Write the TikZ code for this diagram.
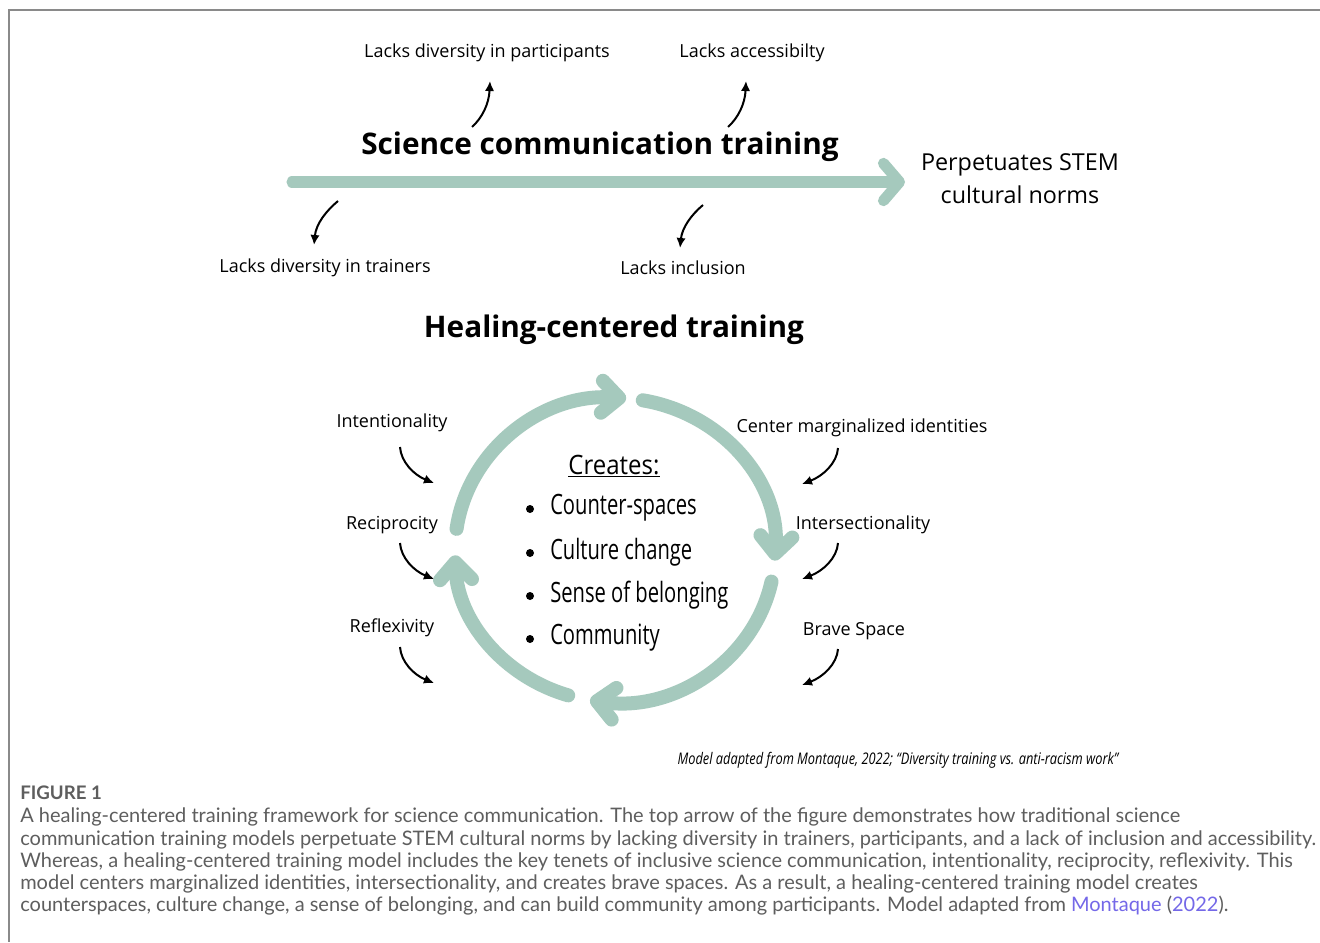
\documentclass[tikz,border=0pt]{standalone}
\usepackage{fontspec}
\setmainfont{Open Sans}
\newfontfamily\cond[FakeStretch=0.72]{Open Sans}
\newfontfamily\condb[FakeStretch=0.9]{Open Sans}
\newfontfamily\condn[FakeStretch=0.8]{Open Sans}
\newfontfamily\capfont{Lato}
\usetikzlibrary{arrows.meta,calc}
\definecolor{sage}{HTML}{A5C9BD}
\definecolor{framegray}{HTML}{8A8A8A}
\definecolor{captext}{HTML}{5E5E5E}
\definecolor{linkblue}{HTML}{7468E8}
\begin{document}
\begin{tikzpicture}[x=0.75pt,y=-0.75pt,
  frame/.style={draw=framegray,line width=1.6pt},
  lab/.style={font=\fontsize{13.5pt}{16pt}\selectfont,inner sep=0pt},
  bigtitle/.style={font=\fontsize{22.3pt}{26pt}\selectfont\bfseries,inner sep=0pt},
  perp/.style={font=\fontsize{17.5pt}{24.75pt}\selectfont,align=center,inner sep=0pt},
  mainarrow/.style={draw=sage,line width=8.3pt,line cap=round,-{Straight Barb[length=12pt,width=28pt,round]}},
  cyc/.style={draw=sage,line width=10.5pt,line cap=round,-{Straight Barb[length=13pt,width=24pt,round]}},
  pointer/.style={draw=black,line width=1.5pt,-{Latex[length=7.5pt,width=7pt]}},
  ctext/.style={font=\cond\fontsize{21pt}{24pt}\selectfont,inner sep=0pt},
  bullet/.style={circle,fill=black,inner sep=0pt,minimum size=6pt},
  captionline/.style={font=\capfont\fontsize{15pt}{18pt}\selectfont,text=captext,anchor=west,inner sep=0pt}
]
\useasboundingbox (0,0) rectangle (1320,942);
\fill[white] (0,0) rectangle (1320,942);

% frame
\coordinate (fTR) at (1320,10);
\coordinate (fTL) at (9,10);
\coordinate (fBL) at (9,942);
\draw[frame] (fTR) -- (fTL) -- (fBL);

% top section
\node[lab] (p1) at (487,53) {Lacks diversity in participants};
\node[lab] (p2) at (752,53) {Lacks accessibilty};
\node[bigtitle] (sct) at (600,147) {Science communication training};
\node[perp] (perp) at (1020,179) {Perpetuates STEM\\cultural norms};
\node[lab] (t1) at (325,268) {Lacks diversity in trainers};
\node[lab] (t2) at (683,268) {Lacks inclusion};

\coordinate (mA) at (292,182);
\coordinate (mB) at (905,182);
\draw[mainarrow] (mA) -- (mB);

\coordinate (a1s) at (472,127);
\coordinate (a1e) at (490,81);
\draw[pointer] (a1s) .. controls (482,118) and (489,104) .. (a1e);
\coordinate (a2s) at (728,127);
\coordinate (a2e) at (746,81);
\draw[pointer] (a2s) .. controls (738,118) and (745,104) .. (a2e);
\coordinate (a3s) at (338,201);
\coordinate (a3e) at (314,245);
\draw[pointer] (a3s) .. controls (326,211) and (316,224) .. (a3e);
\coordinate (a4s) at (703,205);
\coordinate (a4e) at (680,248);
\draw[pointer] (a4s) .. controls (691,215) and (682,228) .. (a4e);

% healing-centered
\node[bigtitle] (hct) at (614,330) {Healing-centered training};

\coordinate (c) at (615,550);
\draw[cyc] ($(c)+({160*cos(188)},{152*sin(188)})$) arc[start angle=188,end angle=274,x radius=160,y radius=152];
\draw[cyc] ($(c)+({160*cos(280)},{152*sin(280)})$) arc[start angle=280,end angle=364,x radius=160,y radius=152];
\draw[cyc] ($(c)+({160*cos(12)},{152*sin(12)})$) arc[start angle=12,end angle=99,x radius=160,y radius=152];
\draw[cyc] ($(c)+({160*cos(107)},{152*sin(107)})$) arc[start angle=107,end angle=178,x radius=160,y radius=152];

\node[font=\condb\fontsize{20pt}{24pt}\selectfont,inner sep=0pt] (cr) at (614,466) {\underline{Creates:}};
\node[ctext,anchor=west] (b1) at (550,508) {Counter-spaces};
\node[ctext,anchor=west] (b2) at (550,552) {Culture change};
\node[ctext,anchor=west] (b3) at (550,595) {Sense of belonging};
\node[ctext,anchor=west] (b4) at (550,638) {Community};
\node[bullet] (d1) at (530,509) {};
\node[bullet] (d2) at (530,553) {};
\node[bullet] (d3) at (530,596) {};
\node[bullet] (d4) at (530,639) {};

\node[lab] (l1) at (392,423) {Intentionality};
\node[lab] (l2) at (392,525) {Reciprocity};
\node[lab] (l3) at (392,628) {Reflexivity};
\node[lab] (r1) at (862,428) {Center marginalized identities};
\node[lab] (r2) at (863,525) {Intersectionality};
\node[lab] (r3) at (854,631) {Brave Space};

\foreach \y/\n in {447/1,543/2,647/3}{
  \coordinate (ls\n) at (400,\y);
  \coordinate (le\n) at (434,\y+36);
  \draw[pointer] (ls\n) .. controls (401,\y+15) and (414,\y+28) .. (le\n);
}
\foreach \y/\n in {448/1,543/2,649/3}{
  \coordinate (rs\n) at (838,\y);
  \coordinate (re\n) at (802,\y+36);
  \draw[pointer] (rs\n) .. controls (837,\y+15) and (823,\y+28) .. (re\n);
}

\node[font=\condn\itshape\fontsize{12pt}{14pt}\selectfont,inner sep=0pt] (note) at (898,760)
  {Model adapted from Montaque, 2022; “Diversity training vs. anti-racism work”};

% caption
\node[captionline,font=\capfont\bfseries\fontsize{14pt}{16pt}\selectfont] (fig) at (20,793) {FIGURE 1};
\node[captionline] (c1) at (20,817) {A healing-centered training framework for science communication. The top arrow of the figure demonstrates how traditional science};
\node[captionline] (c2) at (20,840) {communication training models perpetuate STEM cultural norms by lacking diversity in trainers, participants, and a lack of inclusion and accessibility.};
\node[captionline] (c3) at (20,862) {Whereas, a healing-centered training model includes the key tenets of inclusive science communication, intentionality, reciprocity, reflexivity. This};
\node[captionline] (c4) at (20,884) {model centers marginalized identities, intersectionality, and creates brave spaces. As a result, a healing-centered training model creates};
\node[captionline] (c5) at (20,906) {counterspaces, culture change, a sense of belonging, and can build community among participants. Model adapted from \textcolor{linkblue}{Montaque} (\textcolor{linkblue}{2022}).};
\end{tikzpicture}
\end{document}
